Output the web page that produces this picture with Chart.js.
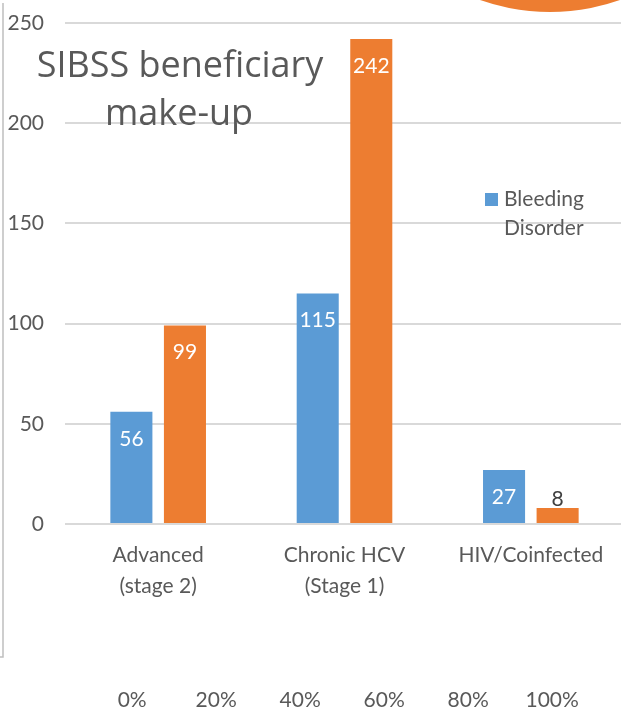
<!DOCTYPE html>
<html lang="en">
<head>
    <meta charset="UTF-8">
    <title>SIBSS beneficiary make-up</title>
    <script src="https://cdn.jsdelivr.net/npm/chart.js@4.4.1/dist/chart.umd.min.js"></script>
    <style>
        html, body {
            margin: 0;
            padding: 0;
            background: #ffffff;
            overflow: hidden;
        }
        .chart-container {
            position: relative;
            width: 624px;
            height: 711px;
        }
    </style>
</head>
<body>
    <div class="chart-container">
        <canvas id="makeupChart"></canvas>
    </div>

    <script>
        // data
        const categories = [['Advanced', '(stage 2)'], ['Chronic HCV', '(Stage 1)'], ['HIV/Coinfected']];
        const bleedingDisorder = [56, 115, 27];
        const otherGroup = [99, 242, 8];
        const yTickValues = [0, 50, 100, 150, 200, 250];
        const percentTicks = [0, 20, 40, 60, 80, 100];

        const textColor = '#595959';
        const fontFamily = 'Lato, "Open Sans", sans-serif';
        const titleFont = '"Open Sans", Lato, sans-serif';

        // title, legend, value labels and slide decorations
        const decorations = {
            id: 'decorations',
            afterDatasetsDraw(chart) {
                const ctx = chart.ctx;
                ctx.save();

                // value labels on the bars
                ctx.font = '21px ' + fontFamily;
                ctx.textAlign = 'center';
                ctx.textBaseline = 'middle';
                chart.data.datasets.forEach((ds, di) => {
                    const meta = chart.getDatasetMeta(di);
                    meta.data.forEach((bar, i) => {
                        const h = bar.base - bar.y;
                        if (h > 40) {
                            ctx.fillStyle = '#ffffff';
                            ctx.fillText(ds.data[i], bar.x, bar.y + 27);
                        } else {
                            ctx.fillStyle = '#404040';
                            ctx.fillText(ds.data[i], bar.x, bar.y - 9);
                        }
                    });
                });

                // title
                ctx.fillStyle = textColor;
                ctx.font = '36px ' + titleFont;
                ctx.textBaseline = 'alphabetic';
                ctx.fillText('SIBSS beneficiary', 180, 77);
                ctx.fillText('make-up', 179, 125);

                // legend (first series only)
                ctx.fillStyle = chart.data.datasets[0].backgroundColor;
                ctx.fillRect(485, 193, 13, 13);
                ctx.fillStyle = textColor;
                ctx.font = '21px ' + fontFamily;
                ctx.textAlign = 'left';
                const words = chart.data.datasets[0].label.split(' ');
                ctx.fillText(words[0], 504, 206);
                ctx.fillText(words[1], 504, 235);

                // orange circle at top right
                ctx.fillStyle = '#ed7d31';
                ctx.beginPath();
                ctx.arc(550, -198, 210, 0, Math.PI * 2);
                ctx.fill();

                // frame line on the left
                ctx.strokeStyle = '#bfbfbf';
                ctx.lineWidth = 1.5;
                ctx.beginPath();
                ctx.moveTo(3, 3);
                ctx.lineTo(3, 657);
                ctx.lineTo(0, 657);
                ctx.stroke();

                ctx.restore();
            }
        };

        const ctx = document.getElementById('makeupChart').getContext('2d');
        new Chart(ctx, {
            type: 'bar',
            data: {
                labels: categories,
                datasets: [
                    {
                        label: 'Bleeding Disorder',
                        data: bleedingDisorder,
                        backgroundColor: '#5b9bd5',
                        barPercentage: 0.785,
                        categoryPercentage: 0.575
                    },
                    {
                        label: 'Other',
                        data: otherGroup,
                        backgroundColor: '#ed7d31',
                        barPercentage: 0.785,
                        categoryPercentage: 0.575
                    }
                ]
            },
            options: {
                responsive: true,
                maintainAspectRatio: false,
                animation: false,
                layout: {
                    padding: { top: 23, left: 0, right: 0, bottom: 0 }
                },
                plugins: {
                    legend: { display: false },
                    tooltip: { enabled: false }
                },
                scales: {
                    y: {
                        min: 0,
                        max: 250,
                        afterBuildTicks: (scale) => {
                            scale.ticks = yTickValues.map(v => ({ value: v }));
                        },
                        afterFit: (scale) => { scale.width = 65; },
                        border: { display: false },
                        grid: {
                            color: '#d9d9d9',
                            lineWidth: 2,
                            drawTicks: true,
                            tickLength: 11,
                            tickColor: 'rgba(0,0,0,0)'
                        },
                        ticks: {
                            padding: 10,
                            color: textColor,
                            font: { family: fontFamily, size: 21 }
                        }
                    },
                    x: {
                        weight: 0,
                        afterFit: (scale) => { scale.height = 130; },
                        border: { display: false },
                        grid: { display: false, drawTicks: false },
                        ticks: {
                            padding: 16,
                            color: textColor,
                            font: { family: fontFamily, size: 21, lineHeight: '31px' }
                        }
                    },
                    // the stray 0%..100% labels under the chart
                    x2: {
                        type: 'linear',
                        position: 'bottom',
                        weight: 1,
                        offset: false,
                        bounds: 'data',
                        min: -16,
                        max: 117.1,
                        afterBuildTicks: (scale) => {
                            scale.ticks = percentTicks.map(v => ({ value: v }));
                        },
                        afterFit: (scale) => { scale.height = 57; },
                        border: { display: false },
                        grid: { display: false, drawTicks: false },
                        ticks: {
                            padding: 34,
                            color: textColor,
                            font: { family: fontFamily, size: 21 },
                            callback: (v) => v + '%'
                        }
                    }
                }
            },
            plugins: [decorations]
        });
    </script>
</body>
</html>
